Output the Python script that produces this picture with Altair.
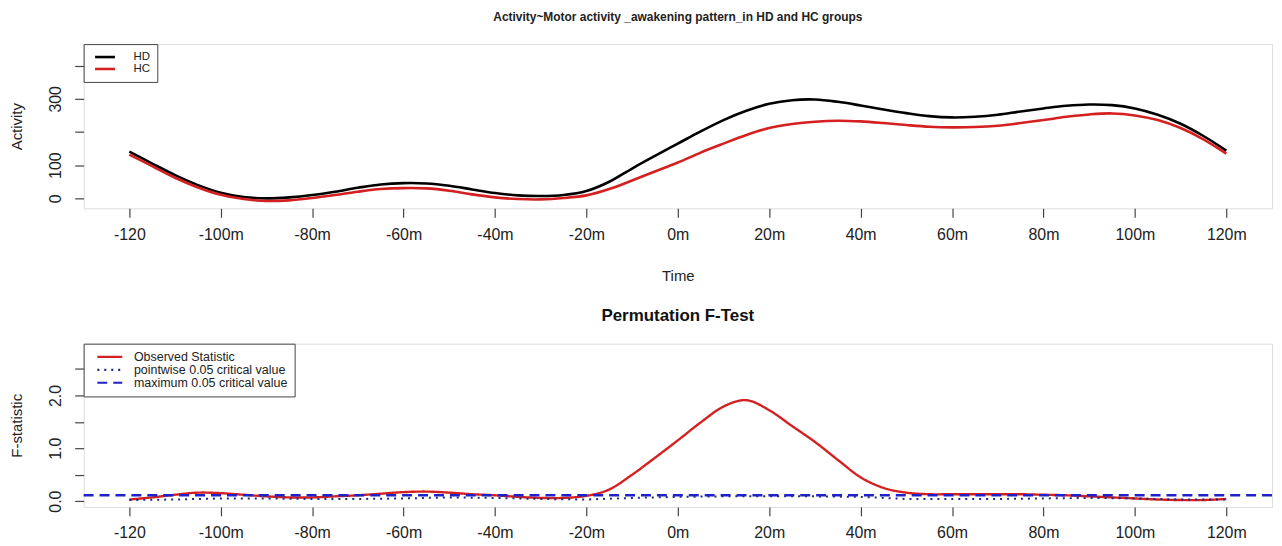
import altair as alt
import pandas as pd

# ---------------- data ----------------
time5 = list(range(-120, 121, 5))

hd_activity = [141, 105, 70, 40, 17, 4, 0, 3, 10, 20, 32, 42, 46, 45, 38, 27, 16, 9, 7, 10,
               22, 50, 90, 128, 165, 202, 236, 264, 285, 296, 298, 291, 280, 268, 257, 248,
               244, 246, 252, 262, 271, 279, 283, 281, 271, 252, 225, 188, 144]
hc_activity = [132, 97, 62, 33, 11, -2, -8, -6, 1, 10, 20, 28, 31, 30, 23, 12, 3, -2, -3, 1,
               9, 28, 54, 81, 108, 138, 165, 191, 212, 224, 231, 234, 232, 227, 221, 216,
               214, 215, 219, 227, 236, 246, 253, 256, 250, 236, 212, 178, 135]

observed_f = [0.03, 0.07, 0.12, 0.16, 0.15, 0.12, 0.09, 0.07, 0.07, 0.09, 0.11, 0.14, 0.17,
              0.18, 0.16, 0.13, 0.11, 0.08, 0.06, 0.06, 0.10, 0.22, 0.50, 0.82, 1.15, 1.49,
              1.79, 1.91, 1.72, 1.42, 1.12, 0.78, 0.45, 0.25, 0.16, 0.13, 0.13, 0.13, 0.13,
              0.13, 0.12, 0.11, 0.09, 0.07, 0.05, 0.03, 0.02, 0.02, 0.04]

time10 = list(range(-120, 121, 10))
pointwise_crit = [0.02, 0.03, 0.05, 0.05, 0.04, 0.04, 0.05, 0.07, 0.06, 0.04, 0.03, 0.06,
                  0.08, 0.09, 0.09, 0.09, 0.08, 0.04, 0.04, 0.04, 0.05, 0.06, 0.05, 0.03, 0.03]
maximum_crit = 0.11

groups = ["HD", "HC"]
group_colors = ["#000000", "#d42020"]
series = ["Observed Statistic", "pointwise 0.05 critical value", "maximum 0.05 critical value"]
series_colors = ["#d42020", "#1c2a80", "#1f22c8"]
series_dash = [[1, 0], [2, 5], [10, 6]]

x_ticks = list(range(-120, 121, 20))
top_y_ticks = [0, 100, 200, 300, 400]
bot_y_ticks = [0, 0.5, 1.0, 1.5, 2.0, 2.5]

top_title = "Activity~Motor activity _awakening pattern_in HD and HC groups"
bot_title = "Permutation F-Test"

# ---------------- tables ----------------
top_df = pd.concat([
    pd.DataFrame({"time": time5, "value": hd_activity, "group": "HD"}),
    pd.DataFrame({"time": time5, "value": hc_activity, "group": "HC"}),
])
obs_df = pd.DataFrame({"time": time5, "value": observed_f, "series": series[0]})
pw_df = pd.DataFrame({"time": time10, "value": pointwise_crit, "series": series[1]})
max_df = pd.DataFrame({"value": [maximum_crit], "series": [series[2]]})

FONT = "Liberation Sans"
W = 1194
X_DOMAIN = [-130, 130]

x_label_expr = "datum.value == -120 ? '-120' : datum.value + 'm'"


def x_axis(title):
    kw = dict(values=x_ticks, labelExpr=x_label_expr, domain=False, grid=False,
              tickSize=9, tickColor="#444", tickWidth=1.2, labelFontSize=16,
              labelColor="#222", labelPadding=9, labelFont=FONT, labelOverlap=False)
    if title:
        return alt.Axis(title=title, titleFontSize=15, titleFont=FONT, titleFontWeight="normal",
                        titleColor="#222", titlePadding=27, **kw)
    return alt.Axis(title=None, **kw)


def y_axis(title, values, expr):
    return alt.Axis(title=title, values=values, labelExpr=expr, domain=False, grid=False,
                    tickSize=9, tickColor="#444", tickWidth=1.2, labelFontSize=16,
                    labelColor="#222", labelPadding=11, labelFont=FONT, labelAngle=-90,
                    labelAlign="center", labelBaseline="bottom", labelOverlap=False,
                    titleFontSize=15, titleFont=FONT, titleFontWeight="normal",
                    titleColor="#222", titlePadding=23)


x_top = alt.X("time:Q", scale=alt.Scale(domain=X_DOMAIN, nice=False, zero=False), axis=x_axis("Time"))
x_bot = alt.X("time:Q", scale=alt.Scale(domain=X_DOMAIN, nice=False, zero=False), axis=x_axis(None))

top = alt.Chart(top_df).mark_line(strokeWidth=2.6, interpolate="cardinal").encode(
    x=x_top,
    y=alt.Y("value:Q", scale=alt.Scale(domain=[-30, 465], nice=False, zero=False),
            axis=y_axis("Activity", top_y_ticks,
                        "datum.value == 200 || datum.value == 400 ? '' : datum.label")),
    color=alt.Color("group:N", scale=alt.Scale(domain=groups, range=group_colors),
                    sort=groups,
                    legend=alt.Legend(title=None, orient="top-left", offset=0, padding=7,
                                      strokeColor="#444", fillColor="white",
                                      symbolType="M-1,0H3.44", symbolSize=81, symbolStrokeWidth=2.6,
                                      labelFontSize=11.5, labelFont=FONT, labelColor="#222",
                                      labelOffset=28, rowPadding=0, symbolOffset=3)),
).properties(
    width=W, height=165,
    title=alt.TitleParams(top_title, fontSize=12, font=FONT, fontWeight="bold",
                          color="#222", anchor="middle", offset=20),
)

y_bot = alt.Y("value:Q", scale=alt.Scale(domain=[-0.11, 2.98], nice=False, zero=False),
              axis=y_axis("F-statistic", bot_y_ticks,
                          "datum.value % 1 == 0 ? format(datum.value, '.1f') : ''"))
color_s = alt.Color("series:N", scale=alt.Scale(domain=series, range=series_colors), sort=series,
                    legend=alt.Legend(title=None, orient="top-left", offset=0, padding=7,
                                      strokeColor="#444", fillColor="white",
                                      symbolType="M-1,0H4.56", symbolSize=81, symbolStrokeWidth=2.2,
                                      labelFontSize=12.5, labelFont=FONT, labelColor="#222",
                                      labelOffset=26, rowPadding=0, symbolOffset=5,
                                      labelLimit=400))
dash_s = alt.StrokeDash("series:N", scale=alt.Scale(domain=series, range=series_dash), sort=series,
                        legend=alt.Legend(title=None))

obs_layer = alt.Chart(obs_df).mark_line(strokeWidth=2.4, interpolate="cardinal").encode(
    x=x_bot, y=y_bot, color=color_s, strokeDash=dash_s)
pw_layer = alt.Chart(pw_df).mark_line(strokeWidth=2).encode(
    x=x_bot, y=y_bot, color=color_s, strokeDash=dash_s)
max_layer = alt.Chart(max_df).mark_rule(strokeWidth=2.4).encode(
    y=y_bot, color=color_s, strokeDash=dash_s)

bottom = alt.layer(obs_layer, pw_layer, max_layer).properties(
    width=W, height=164,
    title=alt.TitleParams(bot_title, fontSize=17, font=FONT, fontWeight="bold",
                          color="#111", anchor="middle", offset=18),
)

chart = alt.vconcat(top, bottom, spacing=22).resolve_scale(
    color="independent", strokeDash="independent"
).resolve_legend(color="independent", strokeDash="independent").properties(
    padding={"left": 1, "top": 1, "right": 0, "bottom": 0}
).configure_view(
    stroke="#444", strokeWidth=1.5
).configure(background="white")

chart.save("out.html", embed_options={"renderer": "svg", "actions": False})
